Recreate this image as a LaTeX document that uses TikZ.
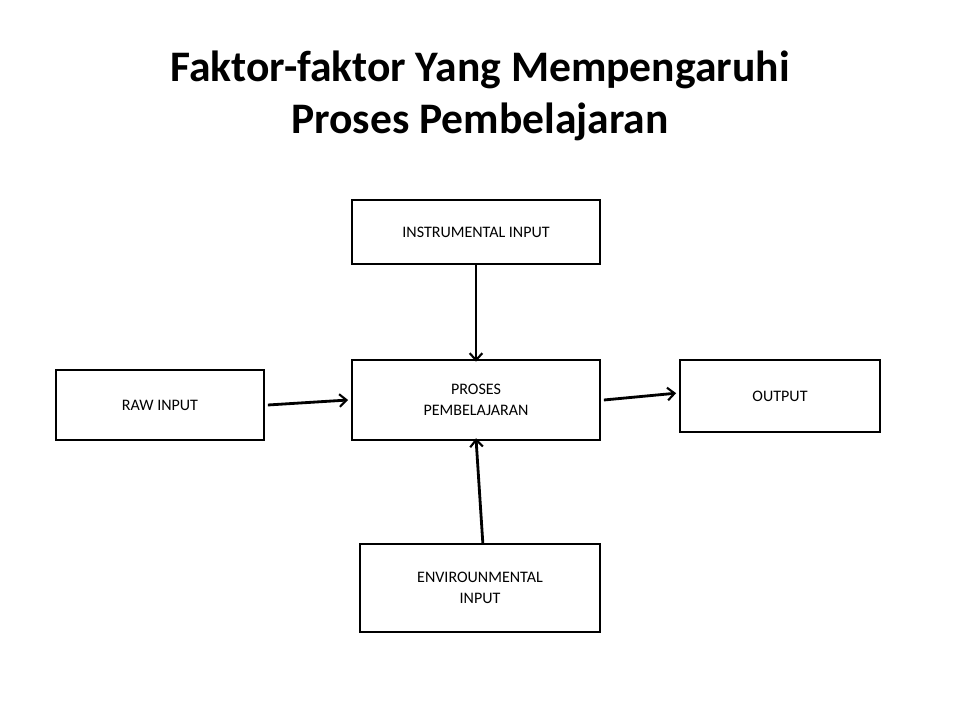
\documentclass[tikz,border=0pt]{standalone}
\usepackage{fontspec}
\setmainfont{Carlito}
\usetikzlibrary{arrows.meta}
\begin{document}
\begin{tikzpicture}[x=0.025cm,y=-0.025cm]
  \tikzset{
    blok/.style={draw=black, line width=1.5pt, fill=white, align=center, font=\fontsize{11.4}{15}\selectfont, inner sep=0pt},
    panah/.style={-{Straight Barb[length=5pt,width=9pt,line width=1.5pt]}, line width=2pt}
  }
  \useasboundingbox[fill=white] (0,0) rectangle (960,720);

  % Title
  \node[font=\bfseries\fontsize{31}{37}\selectfont, align=center] (judul) at (480,96) {Faktor-faktor Yang Mempengaruhi\\Proses Pembelajaran};

  % Boxes
  \node[blok, minimum width=248\pgflinewidth, minimum width=6.2cm, minimum height=1.6cm] (instr) at (476,232) {INSTRUMENTAL INPUT};
  \node[blok, minimum width=6.2cm, minimum height=2cm] (proses) at (476,400) {PROSES\\PEMBELAJARAN};
  \node[blok, minimum width=5.2cm, minimum height=1.75cm] (raw) at (160,405) {RAW INPUT};
  \node[blok, minimum width=5cm, minimum height=1.8cm] (out) at (780,396) {OUTPUT};
  \node[blok, minimum width=6cm, minimum height=2.2cm] (env) at (480,588) {ENVIROUNMENTAL\\INPUT};

  % Connections
  \draw[panah] (instr.south) -- ([yshift=-2pt]proses.north);
  \draw[panah] ([xshift=2pt]raw.east) -- ([xshift=-2pt]proses.west);
  \draw[panah] ([xshift=2pt]proses.east) -- ([xshift=-2pt,yshift=2pt]out.west);
  \draw[panah] ([xshift=2pt]env.north) -- ([yshift=2pt]proses.south);
\end{tikzpicture}
\end{document}
